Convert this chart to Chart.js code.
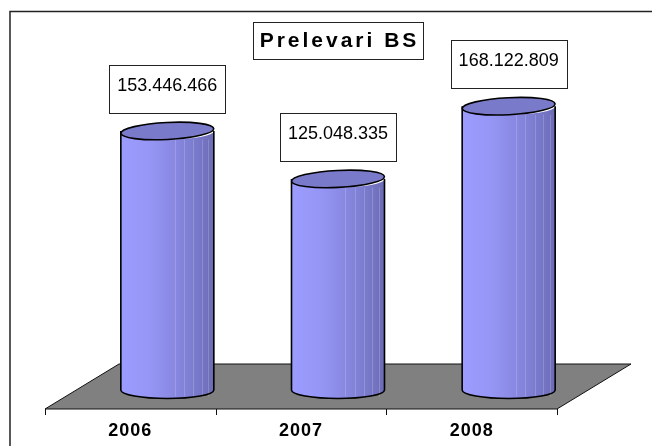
<!DOCTYPE html>
<html>
<head>
<meta charset="utf-8">
<style>
  html, body { margin: 0; padding: 0; background: #fff; overflow: hidden; }
  canvas { display: block; }
</style>
<script src="https://cdn.jsdelivr.net/npm/chart.js@4.4.1/dist/chart.umd.min.js"></script>
</head>
<body>
<canvas id="prelevari-chart" width="652" height="446"></canvas>
<script>
const chartTitle = 'Prelevari BS';
const years = ['2006', '2007', '2008'];
const prelevari = [153446466, 125048335, 168122809];
const yMin = 0;
const yMax = 200000000;

// 3d look
const depthX = 74, depthY = 45, floorFront = 19;
const rx = 46.5, ry = 8.5;

function formatRo(v) {
    return String(v).replace(/\B(?=(\d{3})+(?!\d))/g, '.');
}

function drawCylinder(ctx, cx, top, bottom) {
    let grad = ctx.createLinearGradient(cx - rx, 0, cx + rx, 0);
    grad.addColorStop(0, '#9c9cff');
    grad.addColorStop(0.3, '#9696f6');
    grad.addColorStop(0.6, '#8787e0');
    grad.addColorStop(0.85, '#7777c8');
    grad.addColorStop(1, '#6b6bb4');

    ctx.beginPath();
    ctx.moveTo(cx - rx, top);
    ctx.lineTo(cx - rx, bottom);
    ctx.ellipse(cx, bottom, rx, ry, 0, Math.PI, 0, true);
    ctx.lineTo(cx + rx, top);
    ctx.ellipse(cx, top, rx, ry, 0, 0, Math.PI, false);
    ctx.closePath();
    ctx.fillStyle = grad;
    ctx.fill();

    // facets
    ctx.strokeStyle = 'rgba(255,255,255,0.18)';
    ctx.lineWidth = 1;
    [0.58, 0.68, 0.78, 0.87, 0.94].forEach(f => {
        let x = Math.round(cx - rx + f * 2 * rx) + 0.5;
        ctx.beginPath();
        ctx.moveTo(x, top + ry);
        ctx.lineTo(x, bottom + ry - 2);
        ctx.stroke();
    });

    ctx.beginPath();
    ctx.moveTo(cx - rx, top);
    ctx.lineTo(cx - rx, bottom);
    ctx.ellipse(cx, bottom, rx, ry, 0, Math.PI, 0, true);
    ctx.lineTo(cx + rx, top);
    ctx.strokeStyle = '#000';
    ctx.lineWidth = 1.6;
    ctx.stroke();

    ctx.beginPath();
    ctx.ellipse(cx, top, rx, ry, -0.05, 0, Math.PI * 2);
    ctx.fillStyle = '#7a7acb';
    ctx.fill();
    ctx.stroke();
}

const cylinderPlugin = {
    id: 'cylinders',
    beforeDraw(chart) {
        const ctx = chart.ctx;
        ctx.save();
        ctx.fillStyle = '#fff';
        ctx.fillRect(0, 0, chart.width, chart.height);
        ctx.strokeStyle = '#222';
        ctx.lineWidth = 1.5;
        ctx.beginPath();
        ctx.moveTo(10, chart.height);
        ctx.lineTo(10, 11.5);
        ctx.lineTo(chart.width, 11.5);
        ctx.stroke();
        ctx.restore();
        ctx.letterSpacing = '1px';
    },
    beforeDatasetsDraw(chart) {
        const ctx = chart.ctx;
        ctx.letterSpacing = '0px';
        const area = chart.chartArea;
        const zeroY = chart.scales.y.getPixelForValue(0);
        const fy = zeroY + floorFront;
        ctx.save();
        ctx.beginPath();
        ctx.moveTo(area.left, fy);
        ctx.lineTo(area.right, fy);
        ctx.lineTo(area.right + depthX, fy - depthY);
        ctx.lineTo(area.left + depthX, fy - depthY);
        ctx.closePath();
        ctx.fillStyle = '#808080';
        ctx.fill();
        ctx.strokeStyle = '#111';
        ctx.lineWidth = 1;
        ctx.stroke();

        // tick marks between categories
        const step = (area.right - area.left) / years.length;
        ctx.beginPath();
        for (let i = 0; i <= years.length; i++) {
            let px = Math.round(area.left + i * step) + 0.5;
            ctx.moveTo(px, fy);
            ctx.lineTo(px, fy + 6);
        }
        ctx.stroke();
        ctx.restore();
    },
    afterDatasetsDraw(chart) {
        const ctx = chart.ctx;
        const meta = chart.getDatasetMeta(0);
        const zeroY = chart.scales.y.getPixelForValue(0);
        ctx.save();
        meta.data.forEach((bar, i) => {
            const cx = bar.x + depthX / 2;
            drawCylinder(ctx, cx, bar.y, zeroY);

            // value box
            const txt = formatRo(prelevari[i]);
            ctx.font = '18px "Liberation Sans", Arial, sans-serif';
            const w = ctx.measureText(txt).width + 16;
            const h = 48;
            const bottom = bar.y - 18;
            ctx.fillStyle = '#fff';
            ctx.fillRect(cx - w / 2, bottom - h, w, h);
            ctx.strokeStyle = '#222';
            ctx.lineWidth = 1;
            ctx.strokeRect(Math.round(cx - w / 2) + 0.5, Math.round(bottom - h) + 0.5, Math.round(w), h);
            ctx.fillStyle = '#000';
            ctx.textAlign = 'center';
            ctx.textBaseline = 'middle';
            ctx.fillText(txt, cx, bottom - h / 2 - 3);
        });
        ctx.restore();
    },
    afterDraw(chart) {
        const ctx = chart.ctx;
        ctx.save();
        ctx.fillStyle = '#fff';
        ctx.fillRect(253, 22, 170, 37);
        ctx.strokeStyle = '#222';
        ctx.lineWidth = 1;
        ctx.strokeRect(253.5, 22.5, 170, 37);
        ctx.font = 'bold 21px "Liberation Sans", Arial, sans-serif';
        ctx.letterSpacing = '3px';
        ctx.fillStyle = '#000';
        ctx.textAlign = 'center';
        ctx.textBaseline = 'middle';
        ctx.fillText(chartTitle, 338 + 1.5, 41);
        ctx.restore();
    }
};

let ctx = document.getElementById('prelevari-chart');

var chart = new Chart(ctx, {
    type: 'bar',
    data: {
        labels: years,
        datasets: [{
            label: chartTitle,
            data: prelevari,
            backgroundColor: 'rgba(0,0,0,0)',
            borderWidth: 0
        }]
    },
    options: {
        responsive: false,
        animation: false,
        layout: {
            padding: { left: 45, right: 95, top: 52.4, bottom: 4.4 }
        },
        scales: {
            y: {
                display: false,
                min: yMin,
                max: yMax
            },
            x: {
                grid: { display: false, drawTicks: false },
                border: { display: false },
                ticks: {
                    padding: 30,
                    color: '#000',
                    font: { family: '"Liberation Sans", Arial, sans-serif', size: 18, weight: 'bold' }
                },
                afterFit(scale) {
                    scale.height = 51.6;
                }
            }
        },
        plugins: {
            legend: { display: false },
            tooltip: { enabled: false }
        }
    },
    plugins: [cylinderPlugin]
});
</script>
</body>
</html>
